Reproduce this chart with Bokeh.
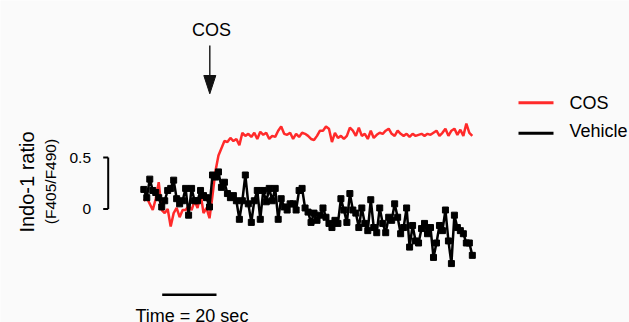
import numpy as np
from bokeh.plotting import figure
from bokeh.models import Range1d, Label
from bokeh.embed import file_html
from bokeh.resources import INLINE

# ---------------- data ----------------
dt = 1.1  # seconds between samples
cos_ratio = [
    0.08, 0.11, 0.05, -0.01, 0.10, 0.26, -0.01, -0.04, 0.00, -0.17,
    -0.04, 0.01, -0.08, -0.01, -0.01, 0.03, -0.01, 0.08, 0.01, 0.15,
    -0.04, 0.01, -0.09, 0.13, 0.37, 0.52, 0.59, 0.66, 0.65, 0.69,
    0.66, 0.68, 0.62, 0.74, 0.71, 0.73, 0.70, 0.74, 0.68, 0.75,
    0.72, 0.74, 0.68, 0.71, 0.70, 0.76, 0.80, 0.73, 0.72, 0.74,
    0.68, 0.73, 0.70,
    0.74, 0.73, 0.71, 0.68, 0.67, 0.71, 0.76, 0.76, 0.80, 0.78,
    0.65, 0.74, 0.69, 0.71, 0.68, 0.71, 0.79, 0.76, 0.71, 0.79,
    0.71, 0.73, 0.68, 0.76, 0.69, 0.72, 0.74,
    0.73, 0.76, 0.78, 0.73, 0.71, 0.76, 0.73, 0.71, 0.73, 0.70,
    0.73, 0.71, 0.72, 0.73, 0.71, 0.73, 0.72, 0.74, 0.76, 0.71,
    0.74, 0.78, 0.71, 0.76, 0.78, 0.72, 0.77, 0.71, 0.83, 0.74,
    0.71,
]
vehicle_ratio = [
    0.19, 0.11, 0.29, 0.18, 0.16, 0.11, 0.02, 0.08, 0.18, 0.20,
    0.28, 0.10, 0.05, 0.08, 0.20, -0.06, 0.20, 0.08, 0.08, 0.18,
    0.13, 0.11, 0.02, 0.33, 0.31, 0.36, 0.21, 0.26, 0.15, 0.11,
    0.13, 0.08, -0.10, 0.08, 0.33, 0.05, -0.13, 0.08, 0.18, -0.10,
    0.18, 0.07, 0.20, 0.08, 0.20, -0.10, 0.10, 0.02, -0.01, 0.05,
    0.05, -0.01, 0.18,
    0.20, 0.01, -0.03, -0.13, -0.04, -0.11, -0.06, 0.01, -0.08, -0.14,
    -0.18, -0.11, -0.14, 0.10, -0.01, -0.13, 0.15, -0.01, -0.04, -0.18,
    0.01, -0.14, -0.21, 0.09, -0.18, -0.23, 0.01, -0.14, -0.23, -0.08,
    -0.11, 0.05, -0.08, -0.24, -0.18, 0.01, -0.37, -0.16, -0.31, -0.33,
    -0.19, -0.14, -0.24, -0.18, -0.47, -0.33, -0.16, -0.21, -0.01, -0.31,
    -0.53, -0.06, -0.18, -0.21, -0.24, -0.33, -0.33, -0.45,
]
series_labels = ["COS", "Vehicle"]
scale_ticks = [0, 0.5]
scale_tick_labels = ["0", "0.5"]
time_bar_sec = 20

t_cos = np.arange(len(cos_ratio)) * dt
t_veh = np.arange(len(vehicle_ratio)) * dt

# ---------------- layout helpers (page px -> data) ----------------
OFF = 0                 # page offset of the figure
X0, KX = 143.3, 2.715   # page x of t=0, px per second
Y0, KY = 208.5, 103.0   # page y of ratio 0, px per unit
def dx(px):
    return (px - X0) / KX
def dy(py):
    return (Y0 - py) / KY

W, H = 629, 322
BG = "#fafafa"
FONT = "Liberation Sans"
RED = "#ff2a2a"

p = figure(width=W, height=H, output_backend="svg", toolbar_location=None,
           x_range=Range1d(dx(OFF), dx(OFF + W)), y_range=Range1d(dy(OFF + H), dy(OFF)),
           min_border=0, background_fill_color=BG, border_fill_color=BG,
           outline_line_color=None)
p.axis.visible = False
p.grid.visible = False

def label(x, y, text, size, align="left", angle=0.0):
    p.add_layout(Label(x=x, y=y, text=text, text_align=align, angle=angle,
                       text_baseline="middle", text_font=FONT,
                       text_font_size=size, text_color="black"))

# traces
p.line(t_cos, cos_ratio, line_color=RED, line_width=2.5)
p.line(t_veh, vehicle_ratio, line_color="black", line_width=2.5)
p.scatter(t_veh, vehicle_ratio, marker="square", size=6,
          fill_color="black", line_color="black")

# y scale bar
xb = dx(107.7)
p.segment(x0=[xb], y0=[scale_ticks[0]], x1=[xb], y1=[scale_ticks[1]],
          line_color="black", line_width=2)
p.segment(x0=[xb, xb], y0=scale_ticks, x1=[dx(102.7)] * 2, y1=scale_ticks,
          line_color="black", line_width=2)
for v, lab in zip(scale_ticks, scale_tick_labels):
    label(dx(90.5), v, lab, "15.5px", align="right")

# y-axis titles
label(dx(26.0), dy(181.5), "Indo-1 ratio", "20px", align="center", angle=np.pi / 2)
label(dx(50.0), dy(181.0), "(F405/F490)", "15.5px", align="center", angle=np.pi / 2)

# stimulus arrow
xa = dx(209.3)
p.segment(x0=[xa], y0=[dy(45)], x1=[xa], y1=[dy(80)], line_color="#222222", line_width=1.5)
p.patch(x=[xa, dx(203.3), dx(215.3)], y=[dy(93.3), dy(75), dy(75)],
        fill_color="#111111", line_color="#111111")
label(dx(211), dy(29.7), "COS", "18px", align="center")

# time scale bar
tb0 = dx(161.7)
p.segment(x0=[tb0], y0=[dy(294.3)], x1=[tb0 + time_bar_sec], y1=[dy(294.3)],
          line_color="black", line_width=2.5)
label(dx(135), dy(315.5), "Time = %d sec" % time_bar_sec, "18px")

# legend
for lab, col, ly, ty in [(series_labels[0], RED, 102.3, 102.2),
                         (series_labels[1], "black", 132.7, 130.9)]:
    p.segment(x0=[dx(518)], y0=[dy(ly)], x1=[dx(553)], y1=[dy(ly)],
              line_color=col, line_width=3)
    label(dx(569), dy(ty), lab, "18px")

open("out.html", "w").write(file_html(p, INLINE))
